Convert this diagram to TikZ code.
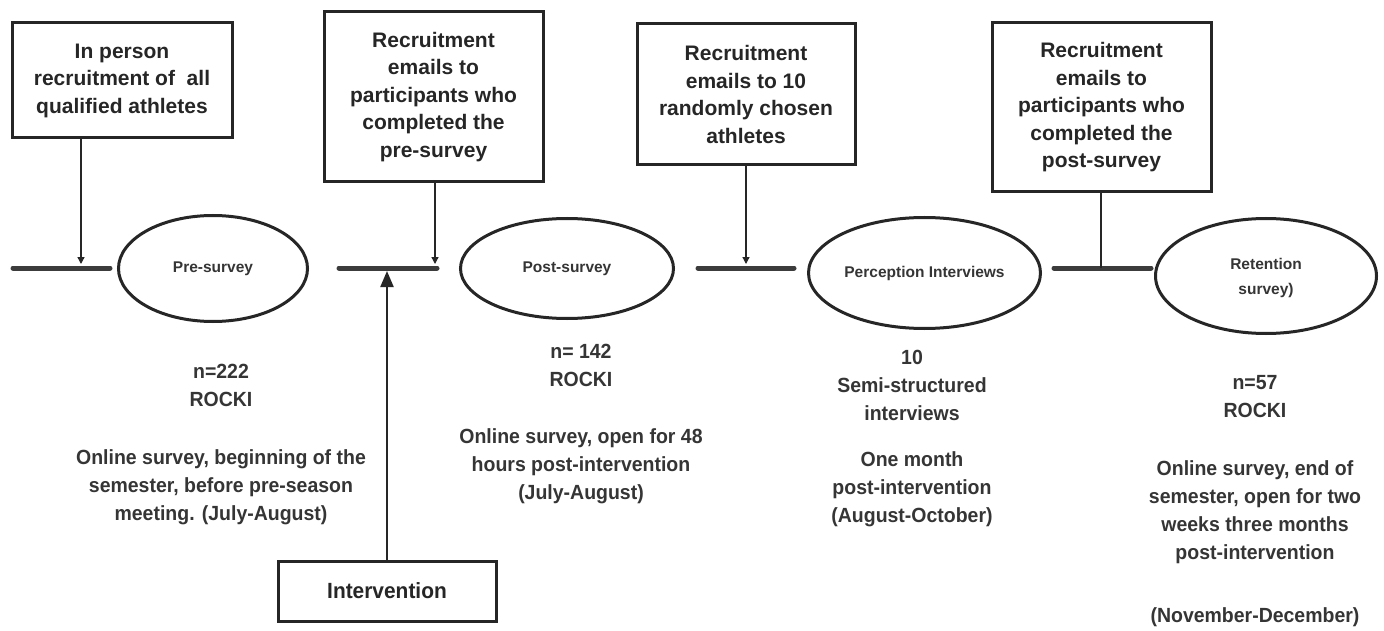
\documentclass[tikz,border=0pt]{standalone}
\usepackage{fontspec}
\setmainfont{Liberation Sans}
\newfontfamily\condb[FakeStretch=0.95]{Liberation Sans}
\usetikzlibrary{arrows.meta,shapes.geometric}
\definecolor{ink}{HTML}{262626}
\definecolor{txt}{HTML}{353535}
\begin{document}
\begin{tikzpicture}[x=1pt,y=-1pt,
  recbox/.style={draw=ink, line width=3pt, inner sep=0pt, align=center, text=ink,
    font=\fontsize{21}{27.5}\selectfont\bfseries},
  oval/.style={ellipse, draw=ink, line width=3pt, inner sep=0pt, align=center, text=txt,
    font=\fontsize{15.5}{25}\selectfont\bfseries},
  seg/.style={draw=ink!90, line width=5pt, line cap=round},
  feed/.style={draw=ink, line width=1.3pt, -{Triangle[length=7pt,width=7pt]}},
  bigfeed/.style={draw=ink, line width=2.2pt, -{Triangle[length=16pt,width=13pt]}},
  info/.style={anchor=north, inner sep=0pt, align=center, text=txt,
    font=\fontsize{20.5}{28}\selectfont\condb\bfseries}]
\useasboundingbox (0,0) rectangle (1384,631);
\fill[white] (0,0) rectangle (1384,631);

% top boxes
\node[recbox, minimum width=220pt, minimum height=115pt] (b1) at (122,80.5)
  {In person\\recruitment of~ all\\qualified athletes};
\node[recbox, minimum width=219pt, minimum height=170pt] (b2) at (433.5,97)
  {Recruitment\\emails to\\participants who\\completed the\\pre-survey};
\node[recbox, minimum width=218pt, minimum height=141pt] (b3) at (746,94.5)
  {Recruitment\\emails to 10\\randomly chosen\\athletes};
\node[recbox, minimum width=219pt, minimum height=169pt] (b4) at (1101.5,107.5)
  {Recruitment\\emails to\\participants who\\completed the\\post-survey};

% ellipses
\node[oval, minimum width=189pt, minimum height=106pt] (e1) at (213,268.5) {Pre-survey};
\node[oval, minimum width=213pt, minimum height=100pt] (e2) at (567,268.5) {Post-survey};
\node[oval, minimum width=232pt, minimum height=111pt] (e3) at (924.5,273) {Perception Interviews};
\node[oval, minimum width=221pt, minimum height=115pt, text depth=0pt] (e4) at (1266,276) {Retention\\survey)};

% intervention box
\node[recbox, minimum width=218pt, minimum height=60pt,
  font=\fontsize{22}{26}\selectfont\condb\bfseries] (iv) at (387,591) {Intervention};

% timeline segments
\coordinate (s1a) at (13,268);   \coordinate (s1b) at (110,268);
\coordinate (s2a) at (339,268);  \coordinate (s2b) at (437,268);
\coordinate (s3a) at (698,268);  \coordinate (s3b) at (794,268);
\coordinate (s4a) at (1054,268); \coordinate (s4b) at (1151,268);
\draw[seg] (s1a) -- (s1b);
\draw[seg] (s2a) -- (s2b);
\draw[seg] (s3a) -- (s3b);
\draw[seg] (s4a) -- (s4b);

% feed arrows
\coordinate (t1) at (81,264);
\coordinate (t2) at (435,264);
\coordinate (t3) at (746,264);
\coordinate (t4) at (1101,268);
\coordinate (t5) at (387,271);
\draw[feed] (b1.south -| t1) -- (t1);
\draw[feed] (b2.south -| t2) -- (t2);
\draw[feed] (b3.south -| t3) -- (t3);
\draw[draw=ink, line width=1.3pt] (b4.south -| t4) -- (t4);
\draw[bigfeed] (iv.north) -- (t5);

% info texts
\node[info] (i1) at (221,364)
  {n=222\\ROCKI\\[30pt]Online survey, beginning of the\\semester, before pre-season\\meeting. (July-August)};
\node[info] (i2) at (581,344)
  {n= 142\\ROCKI\\[29pt]Online survey, open for 48\\hours post-intervention\\(July-August)};
\node[info] (i3) at (912,350)
  {10\\Semi-structured\\interviews\\[18pt]One month\\post-intervention\\(August-October)};
\node[info] (i4) at (1255,375)
  {n=57\\ROCKI\\[30.5pt]Online survey, end of\\semester, open for two\\weeks three months\\post-intervention\\[34.5pt](November-December)};
\end{tikzpicture}
\end{document}
